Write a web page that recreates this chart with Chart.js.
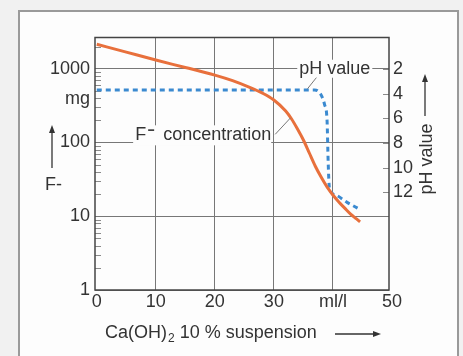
<!DOCTYPE html>
<html lang="en">
<head>
    <meta charset="UTF-8">
    <title>F- concentration and pH value</title>
    <script src="https://cdn.jsdelivr.net/npm/chart.js"></script>
    <style>
        body {
            margin: 0;
            background-color: #f1f1f1;
            font-family: "Liberation Sans", Arial, sans-serif;
        }
        .frame {
            position: absolute;
            left: 18px;
            top: 10px;
            width: 437px;
            height: 360px;
            border: 2px solid #9a9a9a;
            background-color: #fdfdfd;
        }
        canvas {
            position: absolute;
            left: 0;
            top: 0;
        }
    </style>
</head>
<body>
    <div class="frame"></div>
    <canvas id="chart" width="463" height="356"></canvas>

    <script>
        // F- concentration (mg) against Ca(OH)2 added (ml/l)
        const fX   = [0, 5, 10, 15, 20, 23, 26, 28, 30, 32, 33, 34, 35, 36, 37, 38, 39, 40, 41, 42, 43, 44, 44.6];
        const fVal = [2150, 1680, 1310, 1040, 820, 690, 556, 470, 377, 267, 208, 152, 108, 72, 48, 34, 25, 19.4, 15.6, 12.9, 10.7, 9.2, 8.4];

        // pH value against Ca(OH)2 added
        const phX   = [0, 36.9, 38.0, 38.6, 39.0, 39.2, 39.4, 40.4, 42.4, 44.3];
        const phVal = [3.7, 3.7, 4.1, 4.9, 6.1, 9.6, 11.6, 12.2, 12.8, 13.3];

        // axis ticks
        const xTicks = [0, 10, 20, 30, 40, 50];
        const xTickLabels = ['0', '10', '20', '30', 'ml/l', '50'];
        const fTicks = [1, 10, 100, 1000];
        const phTicks = [2, 4, 6, 8, 10, 12];

        const textColor = '#333';
        const gridColor = '#777';
        const font = '"Liberation Sans", Arial, sans-serif';

        Chart.defaults.font.family = font;
        Chart.defaults.font.size = 18;
        Chart.defaults.color = textColor;

        function arrow(ctx, x1, y1, x2, y2) {
            // line from (x1,y1) to tip (x2,y2)
            const ang = Math.atan2(y2 - y1, x2 - x1);
            ctx.beginPath();
            ctx.moveTo(x1, y1);
            ctx.lineTo(x2 - 6 * Math.cos(ang), y2 - 6 * Math.sin(ang));
            ctx.stroke();
            ctx.beginPath();
            ctx.moveTo(x2, y2);
            ctx.lineTo(x2 - 8 * Math.cos(ang) + 3 * Math.sin(ang), y2 - 8 * Math.sin(ang) - 3 * Math.cos(ang));
            ctx.lineTo(x2 - 8 * Math.cos(ang) - 3 * Math.sin(ang), y2 - 8 * Math.sin(ang) + 3 * Math.cos(ang));
            ctx.closePath();
            ctx.fill();
        }

        function line(ctx, x1, y1, x2, y2) {
            ctx.beginPath();
            ctx.moveTo(x1, y1);
            ctx.lineTo(x2, y2);
            ctx.stroke();
        }

        const decor = {
            id: 'decor',
            beforeDatasetsDraw(chart) {
                const { ctx, chartArea: a, scales } = chart;
                ctx.save();
                // minor log ticks inside the left edge
                ctx.strokeStyle = '#8a8a8a';
                ctx.lineWidth = 1;
                for (let d = 1; d <= 1000; d *= 10) {
                    for (let m = 2; m <= 9; m++) {
                        const v = d * m;
                        if (v > scales.y.max) break;
                        const y = Math.round(scales.y.getPixelForValue(v)) + 0.5;
                        line(ctx, a.left, y, a.left + 6, y);
                    }
                }
                // pH ticks inside the right edge
                phTicks.forEach(v => {
                    const y = Math.round(scales.ph.getPixelForValue(v)) + 0.5;
                    line(ctx, a.right - 6, y, a.right, y);
                });
                // plot frame
                ctx.strokeStyle = '#444';
                ctx.lineWidth = 1.5;
                ctx.strokeRect(a.left, a.top, a.width, a.height);
                ctx.restore();
            },
            afterDatasetsDraw(chart) {
                const { ctx, scales } = chart;
                const xs = scales.x, ys = scales.y, ps = scales.ph;
                ctx.save();
                ctx.font = '18px ' + font;
                ctx.textBaseline = 'middle';

                // "pH value" label on the 1000 grid line
                const phLx = xs.getPixelForValue(34.3);
                const phLy = ys.getPixelForValue(1000);
                const phW = ctx.measureText('pH value').width;
                ctx.fillStyle = '#fdfdfd';
                ctx.fillRect(phLx - 2, phLy - 9, phW + 4, 18);
                ctx.fillStyle = textColor;
                ctx.textAlign = 'left';
                ctx.fillText('pH value', phLx, phLy);
                ctx.strokeStyle = gridColor;
                ctx.lineWidth = 1;
                line(ctx, xs.getPixelForValue(37.2), ps.getPixelForValue(2.7),
                          xs.getPixelForValue(35.7), ps.getPixelForValue(3.6));

                // "F- concentration" label
                const fLx = xs.getPixelForValue(6.5);
                const fLy = ys.getPixelForValue(125);
                const cW = ctx.measureText('concentration').width;
                ctx.fillStyle = '#fdfdfd';
                ctx.fillRect(fLx - 2, fLy - 10, 30 + cW, 20);
                ctx.fillStyle = textColor;
                ctx.fillText('F', fLx, fLy);
                ctx.fillRect(fLx + 13, fLy - 6, 6, 1.6);
                ctx.fillText('concentration', fLx + 28, fLy);
                line(ctx, fLx + 28 + cW + 4, fLy - 1,
                          xs.getPixelForValue(32.8), ys.getPixelForValue(215));

                // left axis titles
                ctx.textAlign = 'right';
                ctx.fillText('mg', chart.chartArea.left - 5, 99);
                ctx.textAlign = 'left';
                ctx.fillText('F-', 45, 185);
                ctx.strokeStyle = textColor;
                ctx.lineWidth = 1.3;
                arrow(ctx, 52, 168, 52, 125);

                // right axis title
                arrow(ctx, 425, 116, 425, 74);
                ctx.save();
                ctx.translate(427, 159);
                ctx.rotate(-Math.PI / 2);
                ctx.textAlign = 'center';
                ctx.fillText('pH value', 0, 0);
                ctx.restore();

                // x axis title
                let tx = 105;
                const ty = 333;
                ctx.textAlign = 'left';
                ctx.fillText('Ca(OH)', tx, ty);
                tx += ctx.measureText('Ca(OH)').width;
                ctx.font = '12px ' + font;
                ctx.fillText('2', tx + 1, ty + 6);
                tx += ctx.measureText('2').width + 1;
                ctx.font = '18px ' + font;
                ctx.fillText(' 10 % suspension', tx, ty);
                arrow(ctx, 335, ty + 1, 381, ty + 1);

                ctx.restore();
            }
        };

        const chart = new Chart(document.getElementById('chart'), {
            type: 'line',
            data: {
                datasets: [
                    {
                        label: 'F- concentration',
                        data: fX.map((x, i) => ({ x: x, y: fVal[i] })),
                        yAxisID: 'y',
                        borderColor: '#e8703c',
                        borderWidth: 3,
                        pointRadius: 0,
                        cubicInterpolationMode: 'monotone',
                        fill: false
                    },
                    {
                        label: 'pH value',
                        data: phX.map((x, i) => ({ x: x, y: phVal[i] })),
                        yAxisID: 'ph',
                        borderColor: '#3b8ad0',
                        borderWidth: 3,
                        borderDash: [5, 4],
                        pointRadius: 0,
                        cubicInterpolationMode: 'monotone',
                        fill: false
                    }
                ]
            },
            options: {
                responsive: false,
                animation: false,
                layout: { padding: { top: 37.5, left: 0, right: 0, bottom: 0 } },
                plugins: {
                    legend: { display: false },
                    tooltip: { enabled: false }
                },
                scales: {
                    x: {
                        type: 'linear',
                        min: -0.3,
                        max: 49.5,
                        afterBuildTicks: s => { s.ticks = xTicks.map(v => ({ value: v })); },
                        afterFit: s => { s.height = 66; },
                        ticks: {
                            autoSkip: false,
                            maxRotation: 0,
                            padding: 1,
                            callback: v => xTickLabels[xTicks.indexOf(v)]
                        },
                        grid: {
                            drawTicks: false,
                            color: c => (c.tick && (c.tick.value === 0 || c.tick.value === 50)) ? 'rgba(0,0,0,0)' : gridColor
                        },
                        border: { display: false }
                    },
                    y: {
                        type: 'logarithmic',
                        position: 'left',
                        min: 1,
                        max: 2650,
                        afterBuildTicks: s => { s.ticks = fTicks.map(v => ({ value: v })); },
                        afterFit: s => { s.width = 95; },
                        ticks: {
                            autoSkip: false,
                            padding: 5,
                            callback: v => String(v)
                        },
                        grid: { drawTicks: false, color: gridColor },
                        border: { display: false }
                    },
                    ph: {
                        type: 'linear',
                        position: 'right',
                        reverse: true,
                        min: -0.55,
                        max: 19.9,
                        afterBuildTicks: s => { s.ticks = phTicks.map(v => ({ value: v })); },
                        afterFit: s => { s.width = 74; },
                        ticks: {
                            autoSkip: false,
                            padding: 4,
                            callback: v => String(v)
                        },
                        grid: { display: false, drawTicks: false },
                        border: { display: false }
                    }
                }
            },
            plugins: [decor]
        });
    </script>
</body>
</html>
